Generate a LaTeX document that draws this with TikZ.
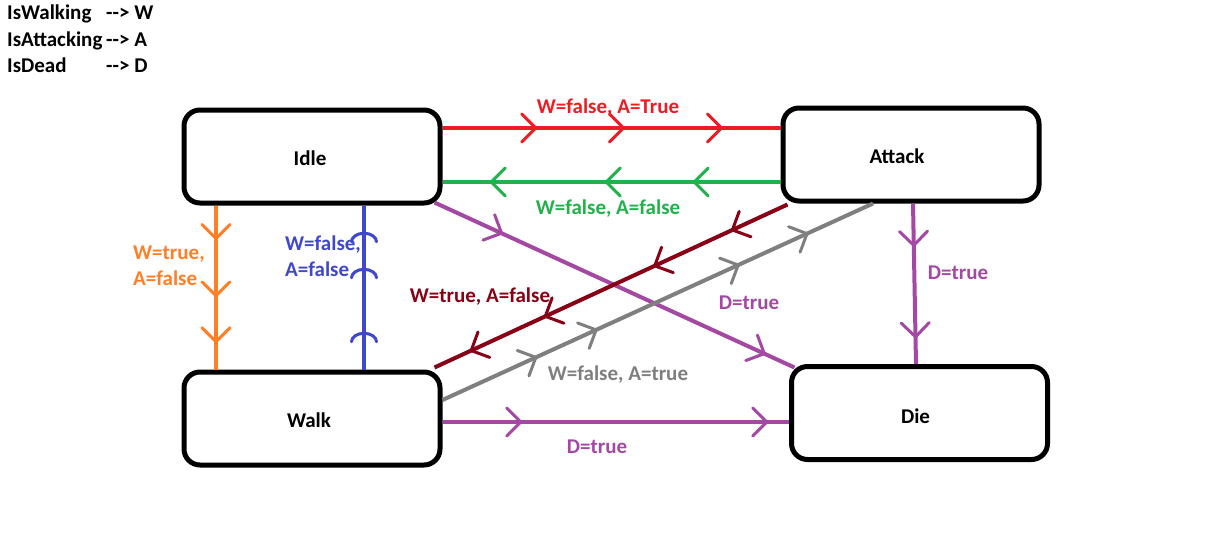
\documentclass[tikz,border=0pt]{standalone}
\usepackage{fontspec}
\setmainfont{Carlito}
\usetikzlibrary{arrows.meta,decorations.markings,calc}
\definecolor{cred}{RGB}{237,28,36}
\definecolor{cgreen}{RGB}{34,177,76}
\definecolor{corange}{RGB}{255,127,39}
\definecolor{cblue}{RGB}{63,72,204}
\definecolor{cpurple}{RGB}{163,73,164}
\definecolor{cdarkred}{RGB}{136,0,21}
\definecolor{cgray}{RGB}{127,127,127}
\tikzset{
  chv/.tip={Straight Barb[length=14pt,width=28pt,line width=3pt,round]},
  arc/.tip={Arc Barb[length=10pt,width=28pt,line width=3pt,round]},
  chevat/.style={postaction={decorate,decoration={markings,mark=at position #1 with {\arrow{chv}}}}},
  arcat/.style={postaction={decorate,decoration={markings,mark=at position #1 with {\arrow{arc}}}}},
  txt/.style={font=\fontsize{21}{26}\selectfont\bfseries},
  state/.style={draw, line width=5pt, rounded corners=16pt, minimum width=256pt,
    minimum height=93pt, inner sep=0pt, txt},
  conn/.style={line width=4pt},
  lab/.style={txt, inner sep=0pt},
  hdr/.style={txt, inner sep=0pt, anchor=base west},
}
\begin{document}
\begin{tikzpicture}[x=1pt,y=-1pt]
\fill[white] (0,0) rectangle (1214,546);
\useasboundingbox (0,0) rectangle (1214,546);

% header
\node[hdr] (h1) at (7,19) {IsWalking};
\node[hdr] (h1a) at (106,19) {-{}-{}> W};
\node[hdr] (h2) at (7,46) {IsAttacking};
\node[hdr] (h2a) at (106,46) {-{}-{}> A};
\node[hdr] (h3) at (7,72) {IsDead};
\node[hdr] (h3a) at (106,72) {-{}-{}> D};

% states
\node[state, label={[txt,xshift=-2pt,yshift=-2pt]center:Idle}] (idle) at (312,156.5) {};
\node[state, label={[txt,xshift=-14pt,yshift=-2pt]center:Attack}] (attack) at (911,154.5) {};
\node[state, label={[txt,xshift=-3pt,yshift=-2pt]center:Walk}] (walk) at (312,418.5) {};
\node[state, label={[txt,xshift=-4pt,yshift=-3pt]center:Die}] (die) at (919.5,413) {};

% connectors
\draw[conn, cred, chevat=0.28, chevat=0.54, chevat=0.83]
  (idle.east |- 0,128) -- (attack.west |- 0,128);
\draw[conn, cgreen, chevat=0.26, chevat=0.52, chevat=0.86]
  (attack.west |- 0,182) -- (idle.east |- 0,182);
\draw[conn, corange, chevat=0.21, chevat=0.56, chevat=0.84]
  (idle.south -| 216,0) -- (walk.north -| 216,0);
\draw[conn, cblue, arcat=0.23, arcat=0.62, arcat=0.84]
  (walk.north -| 364,0) -- (idle.south -| 364,0);
\draw[conn, cpurple, chevat=0.19, chevat=0.92]
  ($(idle.south east)+(-8,-3)$) -- ($(die.north west)+(5.5,3.5)$);
\draw[conn, cdarkred, chevat=0.16, chevat=0.38, chevat=0.69, chevat=0.90]
  ($(attack.south west)+(7,1)$) -- ($(walk.north east)+(-8,-2)$);
\draw[conn, cgray, chevat=0.22, chevat=0.36, chevat=0.69, chevat=0.85]
  (walk.east |- 0,400) -- (attack.south -| 873,0);
\draw[conn, cpurple, chevat=0.23, chevat=0.94]
  (walk.east |- 0,422) -- (die.west |- 0,422);
\draw[conn, cpurple, chevat=0.27, chevat=0.84]
  (attack.south -| 913,0) -- (die.north -| 916,0);

% labels
\node[lab, cred] (l1) at (608,108) {W=false, A=True};
\node[lab, cgreen] (l2) at (608,209) {W=false, A=false};
\node[lab, corange, align=left, anchor=west] (l3) at (133,266) {W=true,\\A=false};
\node[lab, cblue, align=left, anchor=west] (l4) at (285,256) {W=false,\\A=false};
\node[lab, cpurple] (l5) at (749,303) {D=true};
\node[lab, cdarkred] (l6) at (480,297) {W=true, A=false};
\node[lab, cgray] (l7) at (618,375) {W=false, A=true};
\node[lab, cpurple] (l8) at (597,447) {D=true};
\node[lab, cpurple] (l9) at (958,273) {D=true};
\end{tikzpicture}
\end{document}
